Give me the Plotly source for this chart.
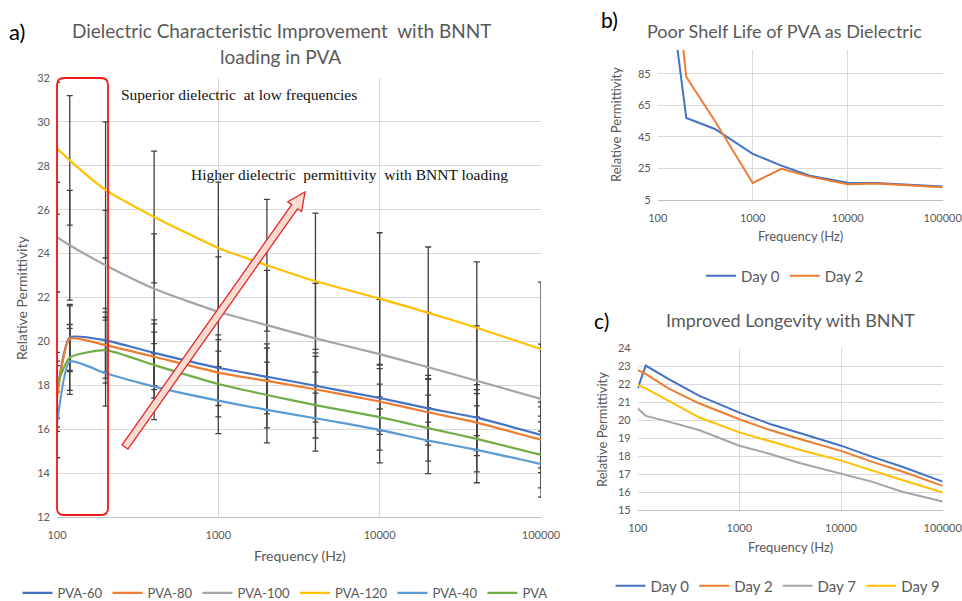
import plotly.graph_objects as go
import math

W, H = 962, 601

# ---------------- data ----------------
freq_a = [100, 120, 200, 400, 1000, 2000, 4000, 10000, 20000, 40000, 100000]
pva60 = [17.6, 20.18, 20.05, 19.48, 18.8, 18.39, 17.98, 17.42, 16.95, 16.53, 15.74]
pva80 = [17.4, 20.12, 19.83, 19.3, 18.58, 18.2, 17.82, 17.26, 16.77, 16.3, 15.52]
pva100 = [24.75, 24.38, 23.47, 22.4, 21.35, 20.74, 20.14, 19.42, 18.82, 18.21, 17.38]
pva120 = [28.8, 28.25, 26.9, 25.67, 24.26, 23.47, 22.74, 21.95, 21.3, 20.62, 19.65]
pva40 = [16.2, 19.09, 18.55, 17.94, 17.3, 16.88, 16.5, 15.97, 15.48, 15.06, 14.41]
pva0 = [18.0, 19.27, 19.6, 18.92, 18.06, 17.56, 17.1, 16.55, 16.05, 15.56, 14.83]
err60 = [1.5, 1.5, 1.45, 1.5, 1.5, 1.5, 1.5, 1.5, 1.5, 1.5, 1.5]
err80 = [1.5, 1.5, 1.5, 1.5, 1.5, 1.5, 1.5, 1.5, 1.5, 1.5, 1.5]
err100 = [2.5, 2.5, 2.5, 2.5, 2.5, 2.5, 2.5, 2.5, 2.5, 2.5, 2.5]
err120 = [3.0, 2.95, 3.1, 3.0, 3.0, 3.0, 3.1, 3.0, 3.0, 3.0, 3.05]
err40 = [1.5, 1.5, 1.5, 1.5, 1.5, 1.5, 1.5, 1.5, 1.5, 1.5, 1.5]
err0 = [1.5, 1.5, 1.5, 1.5, 1.5, 1.5, 1.5, 1.5, 1.5, 1.5, 1.5]
names_a = ["PVA-60", "PVA-80", "PVA-100", "PVA-120", "PVA-40", "PVA"]

freq_b = [100, 120, 200, 400, 1000, 2000, 4000, 10000, 20000, 100000]
b_day0 = [200, 161, 56.9, 50.0, 34.2, 26.8, 20.4, 16.0, 15.8, 13.5]
b_day2 = [250, 204, 82.9, 55.0, 15.8, 24.7, 19.8, 15.0, 15.5, 13.1]

freq_c = [100, 120, 200, 400, 1000, 2000, 4000, 10000, 20000, 40000, 100000]
c_day0 = [21.77, 23.04, 22.3, 21.37, 20.42, 19.79, 19.27, 18.58, 17.97, 17.41, 16.58]
c_day2 = [22.79, 22.57, 21.77, 20.94, 20.05, 19.45, 18.94, 18.29, 17.69, 17.14, 16.34]
c_day7 = [20.66, 20.24, 19.92, 19.45, 18.58, 18.12, 17.6, 17.0, 16.58, 16.02, 15.47]
c_day9 = [21.96, 21.77, 21.09, 20.16, 19.32, 18.81, 18.34, 17.75, 17.23, 16.67, 15.97]

x_tickvals = [100, 1000, 10000, 100000]
x_ticktext = ["100", "1000", "10000", "100000"]
ya_ticks = [12, 14, 16, 18, 20, 22, 24, 26, 28, 30, 32]
yb_ticks = [5, 25, 45, 65, 85]
yc_ticks = [15, 16, 17, 18, 19, 20, 21, 22, 23, 24]

BLUE, ORANGE, GRAY, YELLOW, LBLUE, GREEN = "#4472C4", "#ED7D31", "#A5A5A5", "#FFC000", "#5B9BD5", "#70AD47"
TXT = "#595959"
GRID = "#D9D9D9"
FONT = "Lato"

def px(x):
    return x / W

def py(y):
    return 1 - y / H

fig = go.Figure()

# ---------- chart a: error bars first (below all lines) ----------
series_a = [pva60, pva80, pva100, pva120, pva40, pva0]
errs_a = [err60, err80, err100, err120, err40, err0]
colors_a = [BLUE, ORANGE, GRAY, YELLOW, LBLUE, GREEN]
for ys, es in zip(series_a, errs_a):
    fig.add_trace(go.Scatter(
        x=freq_a, y=ys, mode="markers", marker=dict(size=2, opacity=0),
        error_y=dict(type="data", array=es, color="#404040", thickness=1.3, width=3),
        showlegend=False, hoverinfo="skip", xaxis="x", yaxis="y"))
for ys, nm, c in zip(series_a, names_a, colors_a):
    fig.add_trace(go.Scatter(
        x=freq_a, y=ys, mode="lines", name=nm,
        line=dict(color=c, width=2.2, shape="spline", smoothing=0.5),
        xaxis="x", yaxis="y", legend="legend"))

# ---------- chart b ----------
fig.add_trace(go.Scatter(x=freq_b, y=b_day0, mode="lines", name="Day 0",
                         line=dict(color=BLUE, width=2), xaxis="x2", yaxis="y2", legend="legend2"))
fig.add_trace(go.Scatter(x=freq_b, y=b_day2, mode="lines", name="Day 2",
                         line=dict(color=ORANGE, width=2), xaxis="x2", yaxis="y2", legend="legend2"))

# ---------- chart c ----------
for ys, nm, c in zip([c_day0, c_day2, c_day7, c_day9], ["Day 0", "Day 2", "Day 7", "Day 9"],
                     [BLUE, ORANGE, GRAY, YELLOW]):
    fig.add_trace(go.Scatter(x=freq_c, y=ys, mode="lines", name=nm,
                             line=dict(color=c, width=2), xaxis="x3", yaxis="y3", legend="legend3"))

tickfont = dict(family=FONT, size=11, color=TXT)

def xax(domain, anchor):
    return dict(type="log", domain=domain, anchor=anchor, range=[2, 5],
                tickvals=x_tickvals, ticktext=x_ticktext, tickfont=tickfont,
                showgrid=True, gridcolor=GRID, gridwidth=1, showline=True,
                linecolor="#BFBFBF", linewidth=1, ticks="", zeroline=False,
                ticklabelstandoff=8, automargin=False, ticklabeloverflow="allow")

def yax(domain, anchor, rng, tv):
    return dict(domain=domain, anchor=anchor, range=rng, tickvals=tv, tickfont=tickfont,
                showgrid=True, gridcolor=GRID, gridwidth=1, showline=False,
                zeroline=False, ticks="", ticklabelstandoff=6, automargin=False)

def leg(x, y, size, **kw):
    d = dict(orientation="h", xref="container", yref="container", x=px(x), y=py(y),
             xanchor="center", yanchor="middle", font=dict(family=FONT, size=size, color=TXT),
             itemwidth=30, bgcolor="rgba(0,0,0,0)")
    d.update(kw)
    return d

layout = dict(
    width=W, height=H, margin=dict(l=0, r=0, t=0, b=0, autoexpand=False),
    paper_bgcolor="white", plot_bgcolor="white",
    font=dict(family=FONT, color=TXT),
    xaxis=xax([px(57), px(541)], "y"),
    yaxis=yax([py(517), py(78)], "x", [12, 32], ya_ticks),
    xaxis2=xax([px(657.7), px(942.7)], "y2"),
    yaxis2=yax([py(200), py(50)], "x2", [5, 100], yb_ticks),
    xaxis3=xax([px(637.7), px(942.7)], "y3"),
    yaxis3=yax([py(510), py(348.3)], "x3", [15, 24], yc_ticks),
    legend=leg(285, 593, 13),
    legend2=leg(785, 276, 15),
    legend3=leg(778, 586, 15),
    showlegend=True,
)
fig.update_layout(**layout)

ann = []
def text(s, x, y, size, color=TXT, family=FONT, angle=0, xanchor="center"):
    ann.append(dict(text=s, x=px(x), y=py(y), xref="paper", yref="paper", showarrow=False,
                    font=dict(family=family, size=size, color=color), textangle=angle,
                    xanchor=xanchor, yanchor="middle"))

# titles
text("a)", 17, 32, 22, color="#000000")
text("Dielectric Characteristic Improvement  with BNNT", 281, 31, 19)
text("loading in PVA", 280, 56, 19)
text("b)", 609, 20, 21, color="#000000")
text("Poor Shelf Life of PVA as Dielectric", 784, 31, 18)
text("c)", 601, 320, 21, color="#000000")
text("Improved Longevity with BNNT", 790, 320, 18)
# axis titles
text("Relative Permittivity", 21, 298, 14, angle=-90)
text("Frequency (Hz)", 300, 555, 14)
text("Relative Permittivity", 616, 125, 13, angle=-90)
text("Frequency (Hz)", 800, 236, 13)
text("Relative Permittivity", 602, 430, 13, angle=-90)
text("Frequency (Hz)", 790, 547, 13)
# callout texts
text("Superior dielectric  at low frequencies", 119, 95, 15.5, color="#111111",
     family="Liberation Serif", xanchor="left")
text("Higher dielectric  permittivity  with BNNT loading", 189, 175, 15.5, color="#111111",
     family="Liberation Serif", xanchor="left")
fig.update_layout(annotations=ann)

# shapes: rounded red box and arrow (pixel geometry converted to paper)
x0, x1, y0, y1, r = 57, 108, 78, 515, 7
def P(x, y):
    return f"{px(x):.5f},{py(y):.5f}"
box = (f"M{P(x0 + r, y0)} L{P(x1 - r, y0)} Q{P(x1, y0)} {P(x1, y0 + r)} "
       f"L{P(x1, y1 - r)} Q{P(x1, y1)} {P(x1 - r, y1)} L{P(x0 + r, y1)} "
       f"Q{P(x0, y1)} {P(x0, y1 - r)} L{P(x0, y0 + r)} Q{P(x0, y0)} {P(x0 + r, y0)} Z")

tx, ty, hx, hy = 125, 447, 305, 192
L = math.hypot(hx - tx, hy - ty)
ux, uy = (hx - tx) / L, (hy - ty) / L
nx, ny = -uy, ux
sw, hw, hl = 3.6, 8.5, 18
bx, by = hx - hl * ux, hy - hl * uy
pts = [(tx + sw * nx, ty + sw * ny), (bx + sw * nx, by + sw * ny), (bx + hw * nx, by + hw * ny),
       (hx, hy), (bx - hw * nx, by - hw * ny), (bx - sw * nx, by - sw * ny), (tx - sw * nx, ty - sw * ny)]
arrow = "M" + " L".join(P(a, b) for a, b in pts) + " Z"

fig.update_layout(shapes=[
    dict(type="path", path=box, xref="paper", yref="paper", line=dict(color="#F01818", width=1.8),
         fillcolor="rgba(0,0,0,0)", layer="above"),
    dict(type="path", path=arrow, xref="paper", yref="paper", line=dict(color="#E02828", width=1.3),
         fillcolor="#FADBD2", layer="above"),
])

fig.write_html("out.html", config={"displayModeBar": False},
               post_script="document.body.style.margin='0px';document.body.style.padding='0px';")
